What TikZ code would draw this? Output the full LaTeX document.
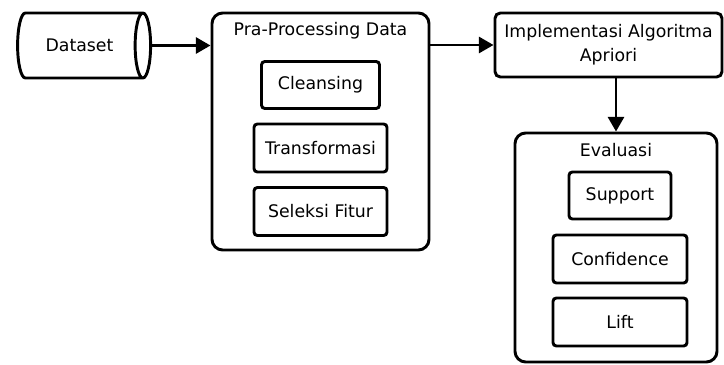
\documentclass[tikz,border=0pt]{standalone}
\usepackage{fontspec}
\setmainfont{DejaVu Sans}
\usetikzlibrary{arrows.meta,positioning,shapes.geometric}

\begin{document}
\begin{tikzpicture}[
    x=0.75pt, y=-0.75pt,
    font=\fontsize{13}{18}\selectfont,
    group/.style={rectangle, rounded corners=8pt, draw=black, line width=2.2pt, inner sep=0pt},
    item/.style={rectangle, rounded corners=2.5pt, draw=black, line width=2.2pt, align=center, inner sep=0pt},
    store/.style={cylinder, aspect=1.2, draw=black, line width=2.2pt, inner sep=0pt},
    arr/.style={-{Triangle[length=11pt, width=12pt]}, line width=2.2pt}
]
\useasboundingbox (0,0) rectangle (724,364);

\node[store, minimum width=48.75pt, minimum height=99.75pt] (dataset) at (79.5,45.5) {Dataset};

\node[group, minimum width=162.75pt, minimum height=177.75pt] (prep) at (320.5,131.5) {};
\node (preptitle) at (320.5,31) {Pra-Processing Data};
\node[item, minimum width=88.5pt, minimum height=35.25pt] (clean) at (320.5,85) {Cleansing};
\node[item, minimum width=99.75pt, minimum height=36pt] (trans) at (320.5,148) {Transformasi};
\node[item, minimum width=99.75pt, minimum height=36pt] (select) at (320.5,211.5) {Seleksi Fitur};

\node[item, rounded corners=4pt, minimum width=170.25pt, minimum height=48pt] (impl) at (608.5,45) {Implementasi Algoritma\\Apriori};

\node[group, minimum width=151.5pt, minimum height=171.75pt] (eval) at (616,247.5) {};
\node (evaltitle) at (616,150) {Evaluasi};
\node[item, minimum width=76.5pt, minimum height=35.25pt] (supp) at (620,195.5) {Support};
\node[item, minimum width=100.5pt, minimum height=36pt] (conf) at (620,259) {Confidence};
\node[item, minimum width=100.5pt, minimum height=36pt] (lift) at (620,322) {Lift};

\draw[arr] (dataset.east) -- (dataset.east -| prep.west);
\draw[arr] (prep.east |- impl.west) -- (impl.west);
\draw[arr] (impl.south -| eval.north) -- (eval.north);
\end{tikzpicture}
\end{document}
